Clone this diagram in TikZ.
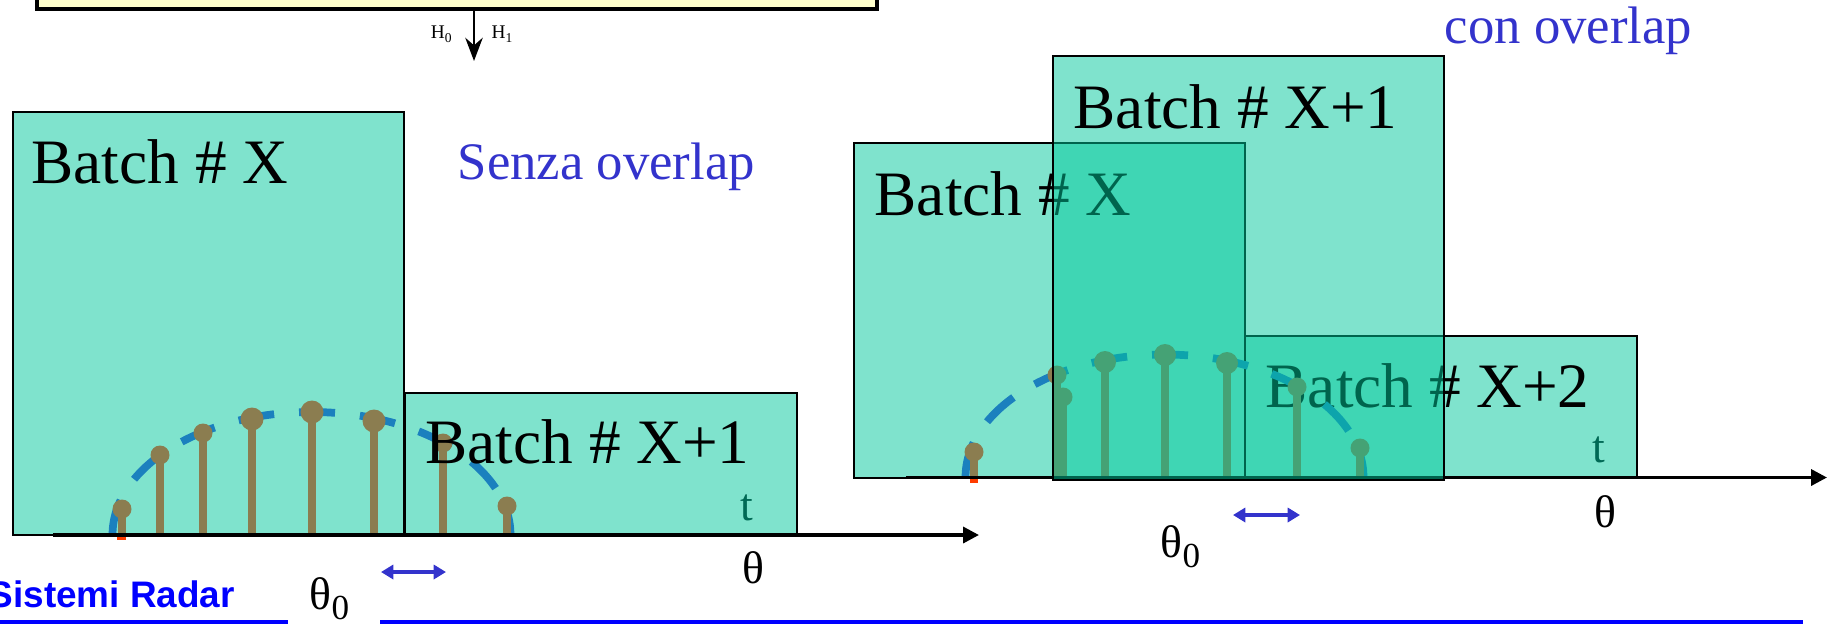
\documentclass[tikz,border=0pt]{standalone}
\usepackage{fontspec}
\setmainfont{Liberation Serif}
\setsansfont{Liberation Sans}
\usepackage{tikz}
\usetikzlibrary{arrows.meta}

\definecolor{batchgreen}{RGB}{0,200,155}
\definecolor{stembrown}{RGB}{139,125,80}
\definecolor{lobeblue}{RGB}{27,128,190}
\definecolor{labelblue}{RGB}{51,51,204}
\definecolor{tealtext}{RGB}{0,105,85}
\definecolor{notepaper}{RGB}{255,255,204}
\definecolor{tickred}{RGB}{255,60,0}

\begin{document}
\begin{tikzpicture}[>=Stealth,
    batchbox/.style={fill=batchgreen, fill opacity=0.5, draw=black, draw opacity=1, line width=0.8pt},
    batchlabel/.style={anchor=base west, inner sep=0pt, font=\fontsize{18}{20}\selectfont},
    smalllabel/.style={anchor=base west, inner sep=0pt, font=\fontsize{13}{15}\selectfont},
    overlaplabel/.style={anchor=base west, inner sep=0pt, text=labelblue, font=\fontsize{15}{17}\selectfont},
    lobe/.style={lobeblue, line width=2.2pt, dash pattern=on 0.36cm off 0.25cm},
    stemline/.style={stembrown, line width=2.4pt},
    axisarrow/.style={-{Triangle[length=4.5pt,width=4.5pt]}, line width=1pt},
    stepspan/.style={{Triangle[length=3.5pt,width=4pt]}-{Triangle[length=3.5pt,width=4pt]}, labelblue, line width=1pt}]
    % cornice della figura
    \clip (0,0) rectangle (18.36,6.25);

    % riquadro del rivelatore (tagliato in alto) e uscita H0/H1
    \draw[fill=notepaper, line width=1.3pt] (0.37,6.16) rectangle (8.77,6.6);
    \coordinate (detout) at (4.74,6.16);
    \coordinate (dettip) at (4.74,5.64);
    \draw[->, line width=0.8pt] (detout) -- (dettip);
    \node[anchor=east, inner sep=0pt, font=\fontsize{5.5}{6}\selectfont] (hzero) at (4.54,5.91) {H\textsubscript{0}};
    \node[anchor=west, inner sep=0pt, font=\fontsize{5.5}{6}\selectfont] (hone) at (4.91,5.91) {H\textsubscript{1}};

    % ---------------- senza overlap ----------------
    \draw[batchbox] (0.13,0.90) rectangle (4.04,5.13);
    \draw[batchbox] (4.05,0.90) rectangle (7.97,2.32);

    % lobo d'antenna tratteggiato
    \draw[lobe] (1.125,0.90) arc[start angle=180, end angle=0, x radius=1.99, y radius=1.23];

    % campioni
    \foreach \x/\y/\r in {1.22/1.16/0.095, 1.60/1.70/0.095, 2.03/1.92/0.095, 2.52/2.06/0.115,
                          3.12/2.13/0.115, 3.74/2.04/0.115, 4.43/1.82/0.095, 5.07/1.19/0.095} {
        \draw[stemline] (\x,0.90) -- (\x,\y);
        \fill[stembrown] (\x,\y) circle (\r);
    }
    \fill[tickred] (1.17,0.85) rectangle (1.26,0.90);

    % asse theta
    \coordinate (axisLa) at (0.53,0.90);
    \coordinate (axisLb) at (9.79,0.90);
    \draw[axisarrow] (axisLa) -- (axisLb);

    \node[batchlabel] (batchA) at (0.31,4.42) {Batch \# X};
    \node[batchlabel] (batchB) at (4.25,1.62) {Batch \# X+1};
    \node[smalllabel, text=tealtext] (timeL) at (7.40,1.05) {t};
    \node[overlaplabel] (senza) at (4.57,4.46) {Senza overlap};
    \node[smalllabel] (thetaL) at (7.42,0.42) {θ};
    \node[smalllabel] (thetazeroL) at (3.09,0.16) {θ\raisebox{-0.5ex}{\fontsize{10}{12}\selectfont 0}};
    \coordinate (spanLa) at (3.81,0.53);
    \coordinate (spanLb) at (4.46,0.53);
    \draw[stepspan] (spanLa) -- (spanLb);

    % ---------------- con overlap ----------------
    \draw[batchbox] (8.54,1.47) rectangle (12.45,4.82);
    \draw[batchbox] (12.45,1.47) rectangle (16.37,2.89);
    \node[batchlabel] (batchC) at (8.74,4.10) {Batch \# X};
    \node[batchlabel] (batchE) at (12.65,2.18) {Batch \# X+2};
    \node[smalllabel, text=tealtext] (timeR) at (15.92,1.63) {t};

    \draw[lobe] (9.655,1.475) arc[start angle=180, end angle=0, x radius=1.99, y radius=1.23];

    \foreach \x/\y/\r in {9.74/1.73/0.095, 10.57/2.50/0.095, 10.63/2.28/0.095, 11.05/2.63/0.11,
                          11.65/2.70/0.11, 12.27/2.62/0.11, 12.97/2.38/0.095, 13.60/1.77/0.095} {
        \draw[stemline] (\x,1.475) -- (\x,\y);
        \fill[stembrown] (\x,\y) circle (\r);
    }
    \fill[tickred] (9.70,1.42) rectangle (9.78,1.47);

    \coordinate (axisRa) at (9.06,1.475);
    \coordinate (axisRb) at (18.27,1.475);
    \draw[axisarrow] (axisRa) -- (axisRb);

    % batch sovrapposto, disegnato per ultimo
    \draw[batchbox] (10.53,1.45) rectangle (14.44,5.69);
    \node[batchlabel] (batchD) at (10.73,4.97) {Batch \# X+1};

    \node[overlaplabel] (con) at (14.44,5.82) {con overlap};
    \node[smalllabel] (thetaR) at (15.94,0.98) {θ};
    \node[smalllabel] (thetazeroR) at (11.60,0.68) {θ\raisebox{-0.5ex}{\fontsize{10}{12}\selectfont 0}};
    \coordinate (spanRa) at (12.33,1.10);
    \coordinate (spanRb) at (13.00,1.10);
    \draw[stepspan] (spanRa) -- (spanRb);

    % pie' di pagina
    \node[anchor=base west, inner sep=0pt, text=blue, font=\sffamily\bfseries\fontsize{10.5}{12}\selectfont] (footer) at (-0.12,0.18) {Sistemi Radar};
    \coordinate (ruleAa) at (0,0.03);
    \coordinate (ruleAb) at (2.88,0.03);
    \coordinate (ruleBa) at (3.80,0.03);
    \coordinate (ruleBb) at (18.03,0.03);
    \draw[blue, line width=1.2pt] (ruleAa) -- (ruleAb);
    \draw[blue, line width=1.2pt] (ruleBa) -- (ruleBb);
\end{tikzpicture}
\end{document}
